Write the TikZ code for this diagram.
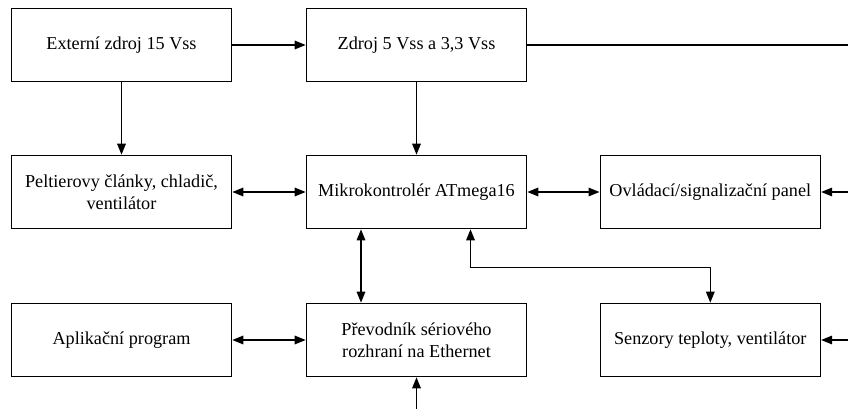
\documentclass[tikz,border=0pt]{standalone}
\usepackage{fontspec}
\setmainfont{Liberation Serif}
\usetikzlibrary{arrows.meta}
\begin{document}
\begin{tikzpicture}[x=1pt,y=-1pt,
  blk/.style={draw, line width=1.6pt, minimum width=220pt, minimum height=73pt, inner sep=0pt, align=center, font=\fontsize{18.2}{22}\selectfont},
  con/.style={line width=1.6pt},
  tip/.style={-{Triangle[length=11pt,width=8.5pt]}},
  dtip/.style={{Triangle[length=11pt,width=8.5pt]}-{Triangle[length=11pt,width=8.5pt]}}
]
\useasboundingbox (0,0) rectangle (848,409);
\node[blk] (ext)   at (121.5,45)  {Externí zdroj 15 Vss};
\node[blk] (zdroj) at (416.5,45)  {Zdroj 5 Vss a 3,3 Vss};
\node[blk] (pelt)  at (121.5,192) {Peltierovy články, chladič,\\ventilátor};
\node[blk] (mikro) at (416.5,192) {Mikrokontrolér ATmega16};
\node[blk] (ovl)   at (710.3,192) {Ovládací/signalizační panel};
\node[blk] (apl)   at (121.5,340) {Aplikační program};
\node[blk] (prev)  at (416.5,340) {Převodník sériového\\rozhraní na Ethernet};
\node[blk] (senz)  at (710.3,340) {Senzory teploty, ventilátor};

\coordinate (eR) at (848,45);
\coordinate (oR) at (848,192);
\coordinate (sR) at (848,340);
\coordinate (pB) at (416.5,409);

\draw[con,tip] (ext) -- (zdroj);
\draw[con] (zdroj.east) -- (eR);
\draw[con,tip] (ext) -- (pelt);
\draw[con,tip] (zdroj) -- (mikro);
\draw[con,dtip] (pelt) -- (mikro);
\draw[con,dtip] (mikro) -- (ovl);
\draw[con,tip] (oR) -- (ovl);
\draw[con,dtip] ([xshift=-55.5pt]mikro.south) -- ([xshift=-55.5pt]prev.north);
\draw[con,dtip] ([xshift=54pt]mikro.south) -- ++(0,38) -| (senz.north);
\draw[con,dtip] (apl) -- (prev);
\draw[con,tip] (sR) -- (senz);
\draw[con,tip] (pB) -- (prev);
\end{tikzpicture}
\end{document}
